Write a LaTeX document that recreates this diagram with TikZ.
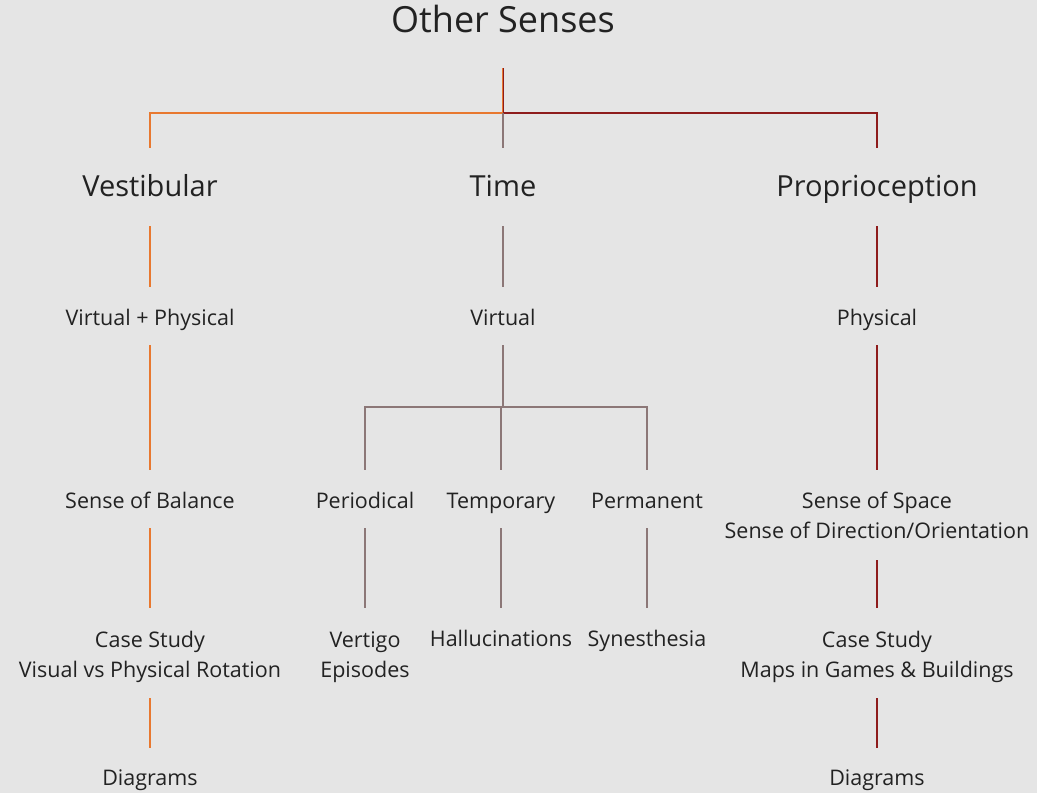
\documentclass[tikz,border=0pt]{standalone}
\usepackage{fontspec}
\setmainfont{Open Sans}
\usetikzlibrary{calc}
\definecolor{bg}{HTML}{E5E5E5}
\definecolor{ink}{HTML}{222222}
\definecolor{vestc}{HTML}{E8782F}
\definecolor{timec}{HTML}{8C7777}
\definecolor{propc}{HTML}{8E1C1C}
\tikzset{
  x=1pt, y=-1pt,
  lbl/.style={inner sep=0pt, anchor=base, text=ink, align=center, font=\fontsize{21.5}{30}\selectfont},
  head/.style={lbl, font=\fontsize{29}{34}\selectfont},
  ttl/.style={lbl, font=\fontsize{36}{40}\selectfont},
  conn/.style={line width=1.3pt},
}
\begin{document}
\begin{tikzpicture}
\fill[bg] (0,0) rectangle (1037,793);
\useasboundingbox (0,0) rectangle (1037,793);

% labels, placed on the baseline of their last line
\node[ttl] (title) at (503,32) {Other Senses};
\node[head] (vest) at (150,196) {Vestibular};
\node[head] (time) at (503,196) {Time};
\node[head] (prop) at (877,196) {Proprioception};

\node[lbl] (vp) at (150,325) {Virtual + Physical};
\node[lbl] (virt) at (503,325) {Virtual};
\node[lbl] (phys) at (877,325) {Physical};

\node[lbl] (bal) at (150,508) {Sense of Balance};
\node[lbl] (per) at (365,508) {Periodical};
\node[lbl] (tmp) at (501,508) {Temporary};
\node[lbl] (perm) at (647,508) {Permanent};
\node[lbl] (space) at (877,538) {Sense of Space\\Sense of Direction/Orientation};

\node[lbl] (csv) at (150,677) {Case Study\\Visual vs Physical Rotation};
\node[lbl] (vert) at (365,677) {Vertigo\\Episodes};
\node[lbl] (hall) at (501,646) {Hallucinations};
\node[lbl] (syn) at (647,646) {Synesthesia};
\node[lbl] (csm) at (877,677) {Case Study\\Maps in Games \& Buildings};

\node[lbl] (diav) at (150,785) {Diagrams};
\node[lbl] (diap) at (877,785) {Diagrams};

% branch points
\coordinate (hub) at (503,113);
\coordinate (tb) at (503,407);

% top fan-out
\draw[vestc, line width=0.8pt] ([xshift=-0.5pt]title.base) ++(0,36) -- ([xshift=-0.5pt]hub);
\draw[propc, line width=0.8pt] ([xshift=0.5pt]title.base) ++(0,36) -- ([xshift=0.5pt]hub);
\draw[conn, vestc, shorten >=48pt] (hub) -| (vest.base);
\draw[conn, propc, shorten >=48pt] (hub) -| (prop.base);
\draw[conn, timec, shorten >=48pt] (hub) -- (time.base);

% vestibular column
\draw[conn, vestc, shorten <=30pt, shorten >=38pt] (vest.base) -- (vp.base);
\draw[conn, vestc, shorten <=20pt, shorten >=38pt] (vp.base) -- (bal.base);
\draw[conn, vestc, shorten <=20pt, shorten >=69pt] (bal.base) -- (csv.base);
\draw[conn, vestc, shorten <=21pt, shorten >=37pt] (csv.base) -- (diav.base);

% time column
\draw[conn, timec, shorten <=30pt, shorten >=38pt] (time.base) -- (virt.base);
\draw[conn, timec, shorten <=20pt] (virt.base) -- (tb);
\draw[conn, timec, shorten >=38pt] (tb) -| (per.base);
\draw[conn, timec, shorten >=38pt] (tb) -| (perm.base);
\draw[conn, timec, shorten >=38pt] (tb -| tmp.base) -- (tmp.base);
\draw[conn, timec, shorten <=20pt, shorten >=69pt] (per.base) -- (vert.base);
\draw[conn, timec, shorten <=20pt, shorten >=38pt] (tmp.base) -- (hall.base);
\draw[conn, timec, shorten <=20pt, shorten >=38pt] (perm.base) -- (syn.base);

% proprioception column
\draw[conn, propc, shorten <=30pt, shorten >=38pt] (prop.base) -- (phys.base);
\draw[conn, propc, shorten <=20pt, shorten >=68pt] (phys.base) -- (space.base);
\draw[conn, propc, shorten <=22pt, shorten >=69pt] (space.base) -- (csm.base);
\draw[conn, propc, shorten <=21pt, shorten >=37pt] (csm.base) -- (diap.base);
\end{tikzpicture}
\end{document}
